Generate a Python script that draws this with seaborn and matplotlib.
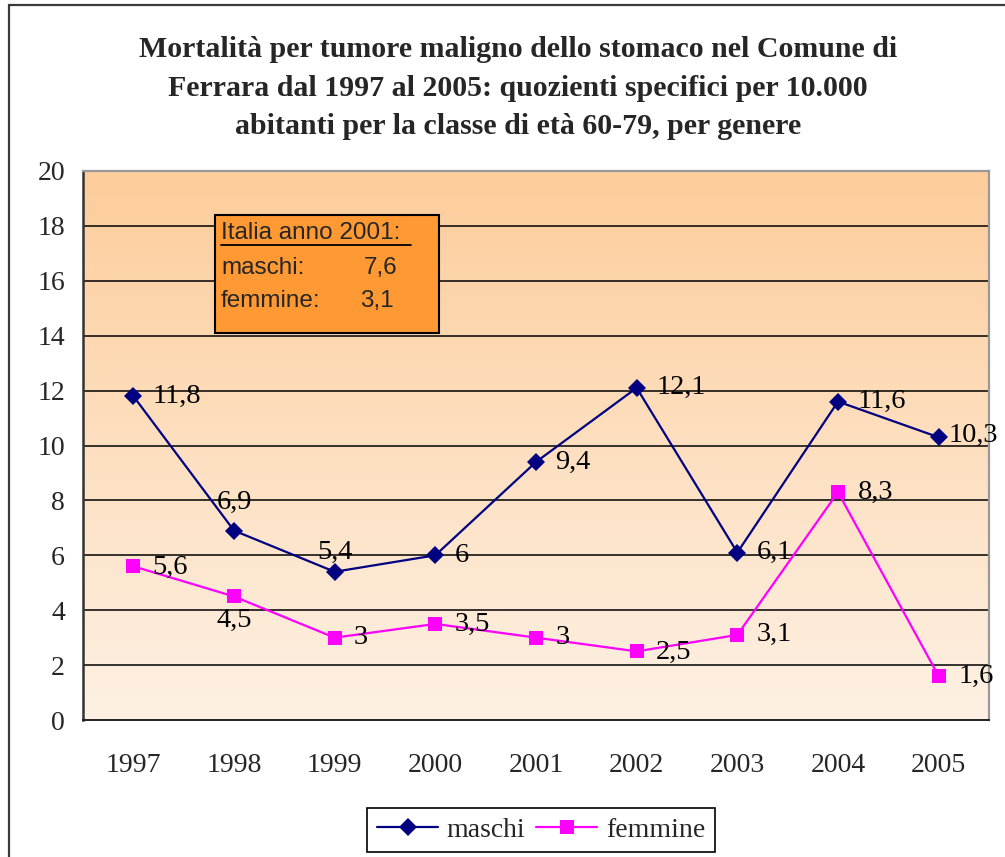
import numpy as np
import pandas as pd
import matplotlib
matplotlib.use("Agg")
import matplotlib.pyplot as plt
from matplotlib.patches import Rectangle
from matplotlib.lines import Line2D
import seaborn as sns

years = ["1997", "1998", "1999", "2000", "2001", "2002", "2003", "2004", "2005"]
maschi = [11.8, 6.9, 5.4, 6.0, 9.4, 12.1, 6.1, 11.6, 10.3]
femmine = [5.6, 4.5, 3.0, 3.5, 3.0, 2.5, 3.1, 8.3, 1.6]
series_names = ["maschi", "femmine"]
title = ("Mortalità per tumore maligno dello stomaco nel Comune di\n"
         "Ferrara dal 1997 al 2005: quozienti specifici per 10.000\n"
         "abitanti per la classe di età 60-79, per genere")
box_lines = ["Italia anno 2001:", "maschi:", "femmine:"]
box_values = ["7,6", "3,1"]

sns.set_theme(style="white")
plt.rcParams['font.family'] = ['Liberation Serif', 'DejaVu Serif']

W, H = 1005, 857
fig = plt.figure(figsize=(W / 100, H / 100), dpi=100)
fig.patch.set_facecolor("white")

def fx(px):
    return px / W

def fy(py):
    return 1 - py / H

L, R, T, B = 83, 989, 171, 720
ax = fig.add_axes([fx(L), fy(B), fx(R) - fx(L), fy(T) - fy(B)])

# gradient background
top_c = np.array([253, 205, 155]) / 255
bot_c = np.array([254, 241, 228]) / 255
t = np.linspace(0, 1, 256)[:, None]
grad = (top_c[None, :] * (1 - t) + bot_c[None, :] * t)[:, None, :]
ax.imshow(grad, extent=(-0.5, 8.5, 0, 20), aspect="auto", origin="upper", zorder=0)

df = pd.DataFrame({
    "x": list(range(len(years))) * 2,
    "val": maschi + femmine,
    "serie": [series_names[0]] * len(years) + [series_names[1]] * len(years),
})
palette = {"maschi": "#000080", "femmine": "#FF00FF"}
sns.lineplot(data=df, x="x", y="val", hue="serie", style="serie",
             markers={"maschi": "D", "femmine": "s"}, dashes=False,
             palette=palette, linewidth=1.6, markersize=9.5,
             markeredgewidth=0, ax=ax, legend=False, zorder=5)
for ln in ax.lines:
    if ln.get_marker() == "D":
        ln.set_markersize(9)

ax.set_xlim(-0.5, 8.5)
ax.set_ylim(0, 20)
ax.set_yticks(range(0, 21, 2))
ax.set_yticklabels([str(v) for v in range(0, 21, 2)], fontsize=20)
ax.set_xticks(np.arange(-0.5, 9, 1))
ax.set_xticklabels([])
ax.set_xticks(range(len(years)), minor=True)
ax.set_xticklabels(years, minor=True, fontsize=20)
ax.tick_params(axis="x", which="minor", length=0, pad=24)
ax.tick_params(axis="x", which="major", length=7, width=1.2, color="#333333", direction="out")
ax.tick_params(axis="y", length=7, width=1.2, color="#333333", direction="out", pad=6)
ax.set_xlabel("")
ax.set_ylabel("")
ax.grid(False)
for yv in range(2, 20, 2):
    ax.axhline(yv, color="black", linewidth=1.1, zorder=1)

ax.spines["left"].set_color("#333333")
ax.spines["left"].set_linewidth(1.8)
ax.spines["bottom"].set_color("#222222")
ax.spines["bottom"].set_linewidth(1.4)
ax.spines["top"].set_color("#999999")
ax.spines["top"].set_linewidth(1.6)
ax.spines["right"].set_color("#999999")
ax.spines["right"].set_linewidth(1.6)
for s in ax.spines.values():
    s.set_zorder(6)

def fmt(v):
    s = f"{v:.1f}".replace(".", ",")
    return s[:-2] if s.endswith(",0") else s

m_off = [(14, 0, "left"), (0, 20, "center"), (0, 14, "center"), (14, 0, "left"),
         (14, 0, "left"), (14, 0, "left"), (14, 0, "left"), (14, 0, "left"), (7, 1, "left")]
f_off = [(14, -1, "left"), (0, -17, "center"), (14, 0, "left"), (14, 0, "left"),
         (14, 0, "left"), (14, -1, "left"), (14, 0, "left"), (14, 0, "left"), (14, 0, "left")]
for vals, offs in ((maschi, m_off), (femmine, f_off)):
    for i, v in enumerate(vals):
        dx, dy, ha = offs[i]
        ax.annotate(fmt(v), (i, v), xytext=(dx, dy), textcoords="offset points",
                    ha=ha, va="center", fontsize=20.5, color="black", zorder=7,
                    annotation_clip=False)

# title
fig.text(fx(518), fy(88), title, ha="center", va="center", fontsize=21.5,
         fontweight="bold", linespacing=1.56)

# Italia box
fig.patches.append(Rectangle((fx(215), fy(333)), fx(439) - fx(215), fy(215) - fy(333),
                             transform=fig.transFigure, facecolor="#FF9933",
                             edgecolor="black", linewidth=1.5, zorder=10))
sans = ['Liberation Sans', 'DejaVu Sans']
bfs = 17.5
fig.text(fx(221), fy(233), box_lines[0], family=sans, fontsize=bfs, va="center", ha="left", zorder=11)
fig.add_artist(Line2D([fx(221), fx(411)], [fy(245), fy(245)], color="black", linewidth=1.3,
                      transform=fig.transFigure, zorder=11))
fig.text(fx(221), fy(268), box_lines[1], family=sans, fontsize=bfs, va="center", ha="left", zorder=11)
fig.text(fx(221), fy(301), box_lines[2], family=sans, fontsize=bfs, va="center", ha="left", zorder=11)
fig.text(fx(397), fy(268), box_values[0], family=sans, fontsize=bfs, va="center", ha="right", zorder=11)
fig.text(fx(394), fy(301), box_values[1], family=sans, fontsize=bfs, va="center", ha="right", zorder=11)

# legend
handles = [Line2D([], [], color=palette[n], marker=m, markersize=ms, markeredgewidth=0, linewidth=1.6)
           for n, m, ms in (("maschi", "D", 9), ("femmine", "s", 9.5))]
leg = fig.legend(handles, series_names, loc="center", bbox_to_anchor=(fx(541), fy(830)),
                 ncol=2, fontsize=20, frameon=True, fancybox=False, edgecolor="black",
                 handlelength=2.2, handletextpad=0.3, columnspacing=0.4,
                 borderpad=0.35, framealpha=1)
leg.get_frame().set_linewidth(1.2)

# outer frame (extends past right and bottom edges)
fig.patches.append(Rectangle((fx(9), fy(880)), fx(1030) - fx(9), fy(5) - fy(880),
                             transform=fig.transFigure, facecolor="none",
                             edgecolor="#3a3a3a", linewidth=1.6, zorder=0))

fig.savefig("out.png", dpi=100, facecolor="white")
